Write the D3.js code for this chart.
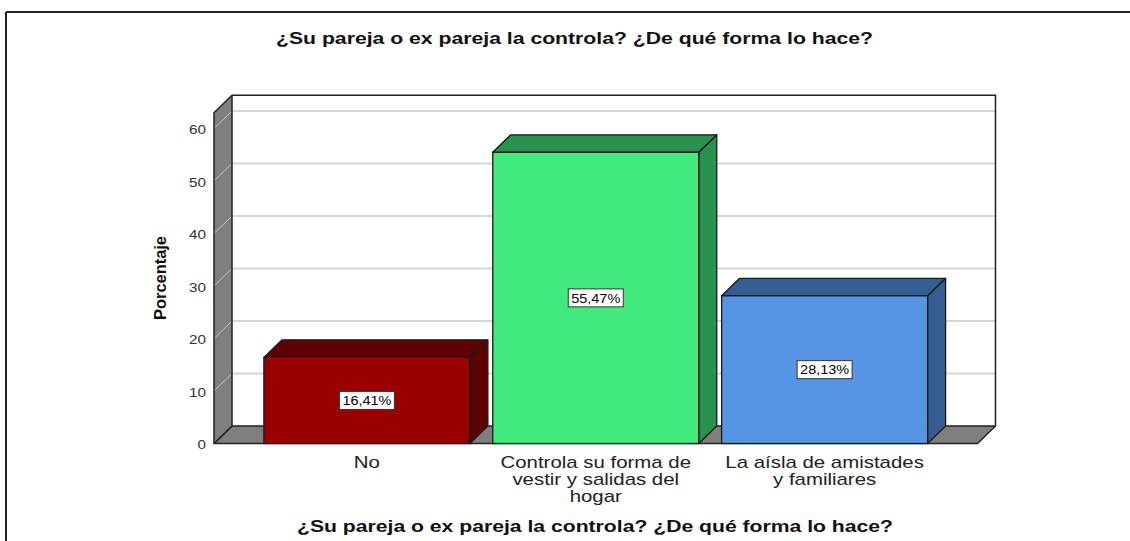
<!DOCTYPE html>
<html>
<head>
<meta charset="utf-8">
<script src="https://cdn.jsdelivr.net/npm/d3@7"></script>
<style>
  html, body { margin: 0; padding: 0; background: #fff; }
  svg { display: block; }
</style>
</head>
<body>
<svg id="chart" width="1130" height="541"></svg>
<script>
const categories = [
  ["No"],
  ["Controla su forma de", "vestir y salidas del", "hogar"],
  ["La aísla de amistades", "y familiares"]
];
const values = [16.41, 55.47, 28.13];
const valueLabels = ["16,41%", "55,47%", "28,13%"];
const frontColors = ["#990000", "#42EA7E", "#5595E3"];
const darkColors = ["#5E0000", "#289150", "#345D92"];
const tickValues = [0, 10, 20, 30, 40, 50, 60];
const titleText = "¿Su pareja o ex pareja la controla? ¿De qué forma lo hace?";
const yTitle = "Porcentaje";

const svg = d3.select("#chart");
const FONT = "'Liberation Sans', Arial, sans-serif";
const DX = 18, DY = 17.5;

const y = d3.scaleLinear().domain([0, 63]).range([443.5, 443.5 - 63 * 5.25]);
const x = d3.scaleBand().domain(d3.range(categories.length))
  .range([214, 977.5]).paddingInner(0.1).paddingOuter(0.218);

const x0 = 214, x1 = 977.5;
const yBottom = y(0), yTop = y(63);

// outer frame
svg.append("line").attr("x1", 6).attr("x2", 1130).attr("y1", 12).attr("y2", 12)
  .attr("stroke", "#222").attr("stroke-width", 2);
svg.append("line").attr("x1", 6).attr("x2", 6).attr("y1", 12).attr("y2", 541)
  .attr("stroke", "#222").attr("stroke-width", 2);

// title
svg.append("text").attr("x", 276).attr("y", 44)
  .attr("font-family", FONT).attr("font-weight", "bold").attr("font-size", 16)
  .attr("fill", "#111").attr("textLength", 597).attr("lengthAdjust", "spacingAndGlyphs")
  .text(titleText);

// back wall
svg.append("rect").attr("x", x0 + DX).attr("y", yTop - DY)
  .attr("width", x1 - x0).attr("height", yBottom - yTop).attr("fill", "#fff");

// gridlines on back wall
svg.append("g").selectAll("line").data(tickValues.filter(d => d > 0)).join("line")
  .attr("x1", x0 + DX).attr("x2", x1 + DX)
  .attr("y1", d => y(d) - DY).attr("y2", d => y(d) - DY)
  .attr("stroke", "#d6d6d6").attr("stroke-width", 2);

// back wall border (top + right)
svg.append("path")
  .attr("d", `M${x0 + DX},${yTop - DY} L${x1 + DX},${yTop - DY} L${x1 + DX},${yBottom - DY}`)
  .attr("fill", "none").attr("stroke", "#222").attr("stroke-width", 1.5);

// floor
svg.append("path")
  .attr("d", `M${x0},${yBottom} L${x0 + DX},${yBottom - DY} L${x1 + DX},${yBottom - DY} L${x1},${yBottom} Z`)
  .attr("fill", "#7f7f7f").attr("stroke", "#222").attr("stroke-width", 1.5).attr("stroke-linejoin", "round");

// left wall
svg.append("path")
  .attr("d", `M${x0},${yBottom} L${x0},${yTop} L${x0 + DX},${yTop - DY} L${x0 + DX},${yBottom - DY} Z`)
  .attr("fill", "#7f7f7f").attr("stroke", "#222").attr("stroke-width", 1.5).attr("stroke-linejoin", "round");

// diagonal tick lines on left wall
svg.append("g").selectAll("line").data(tickValues.filter(d => d > 0)).join("line")
  .attr("x1", x0 + 1).attr("x2", x0 + DX - 1)
  .attr("y1", d => y(d) - 1).attr("y2", d => y(d) - DY + 1)
  .attr("stroke", "#c4c4c4").attr("stroke-width", 1);

// tick labels
svg.append("g").selectAll("text").data(tickValues).join("text")
  .attr("x", 206).attr("y", d => y(d) + 1.5).attr("dy", "0.35em")
  .attr("text-anchor", "end")
  .attr("font-family", FONT).attr("font-size", 12).attr("fill", "#333")
  .attr("textLength", d => String(d).length * 8.5).attr("lengthAdjust", "spacingAndGlyphs")
  .text(d => d);

// y axis title
svg.append("text")
  .attr("transform", `translate(166,278) rotate(-90)`)
  .attr("text-anchor", "middle")
  .attr("font-family", FONT).attr("font-weight", "bold").attr("font-size", 17)
  .attr("fill", "#111").attr("textLength", 84).attr("lengthAdjust", "spacingAndGlyphs")
  .text(yTitle);

// bars
const bars = svg.append("g").selectAll("g").data(values).join("g");
bars.append("path") // side
  .attr("d", (d, i) => {
    const r = x(i) + x.bandwidth(), t = y(d), b = y(0);
    return `M${r},${b} L${r},${t} L${r + DX},${t - DY} L${r + DX},${b - DY} Z`;
  })
  .attr("fill", (d, i) => darkColors[i]).attr("stroke", "#1a1a1a").attr("stroke-width", 1.3)
  .attr("stroke-linejoin", "round");
bars.append("path") // top
  .attr("d", (d, i) => {
    const l = x(i), r = x(i) + x.bandwidth(), t = y(d);
    return `M${l},${t} L${l + DX},${t - DY} L${r + DX},${t - DY} L${r},${t} Z`;
  })
  .attr("fill", (d, i) => darkColors[i]).attr("stroke", "#1a1a1a").attr("stroke-width", 1.3)
  .attr("stroke-linejoin", "round");
bars.append("rect") // front
  .attr("x", (d, i) => x(i)).attr("y", d => y(d))
  .attr("width", x.bandwidth()).attr("height", d => y(0) - y(d))
  .attr("fill", (d, i) => frontColors[i]).attr("stroke", "#1a1a1a").attr("stroke-width", 1.3);

// value labels
const lab = svg.append("g").selectAll("g").data(values).join("g")
  .attr("transform", (d, i) => `translate(${x(i) + x.bandwidth() / 2},${(y(d) + y(0)) / 2})`);
lab.append("rect").attr("x", -27.5).attr("y", -9).attr("width", 55).attr("height", 18)
  .attr("fill", "#fff").attr("stroke", "#333").attr("stroke-width", 1);
lab.append("text").attr("text-anchor", "middle").attr("dy", "0.36em")
  .attr("font-family", FONT).attr("font-size", 13).attr("fill", "#000")
  .attr("textLength", 49).attr("lengthAdjust", "spacingAndGlyphs")
  .text((d, i) => valueLabels[i]);

// category labels (one text per line, widened like the reference)
categories.forEach((lines, i) => {
  lines.forEach((l, j) => {
    const t = svg.append("text")
      .attr("x", x(i) + x.bandwidth() / 2)
      .attr("y", 468 + j * 17)
      .attr("text-anchor", "middle")
      .attr("font-family", FONT).attr("font-size", 17).attr("fill", "#222")
      .text(l);
    const w = t.node().getComputedTextLength();
    t.attr("textLength", w * 1.2).attr("lengthAdjust", "spacingAndGlyphs");
  });
});

// bottom axis title
svg.append("text").attr("x", 297).attr("y", 532)
  .attr("font-family", FONT).attr("font-weight", "bold").attr("font-size", 17)
  .attr("fill", "#111").attr("textLength", 596).attr("lengthAdjust", "spacingAndGlyphs")
  .text(titleText);
</script>
</body>
</html>
